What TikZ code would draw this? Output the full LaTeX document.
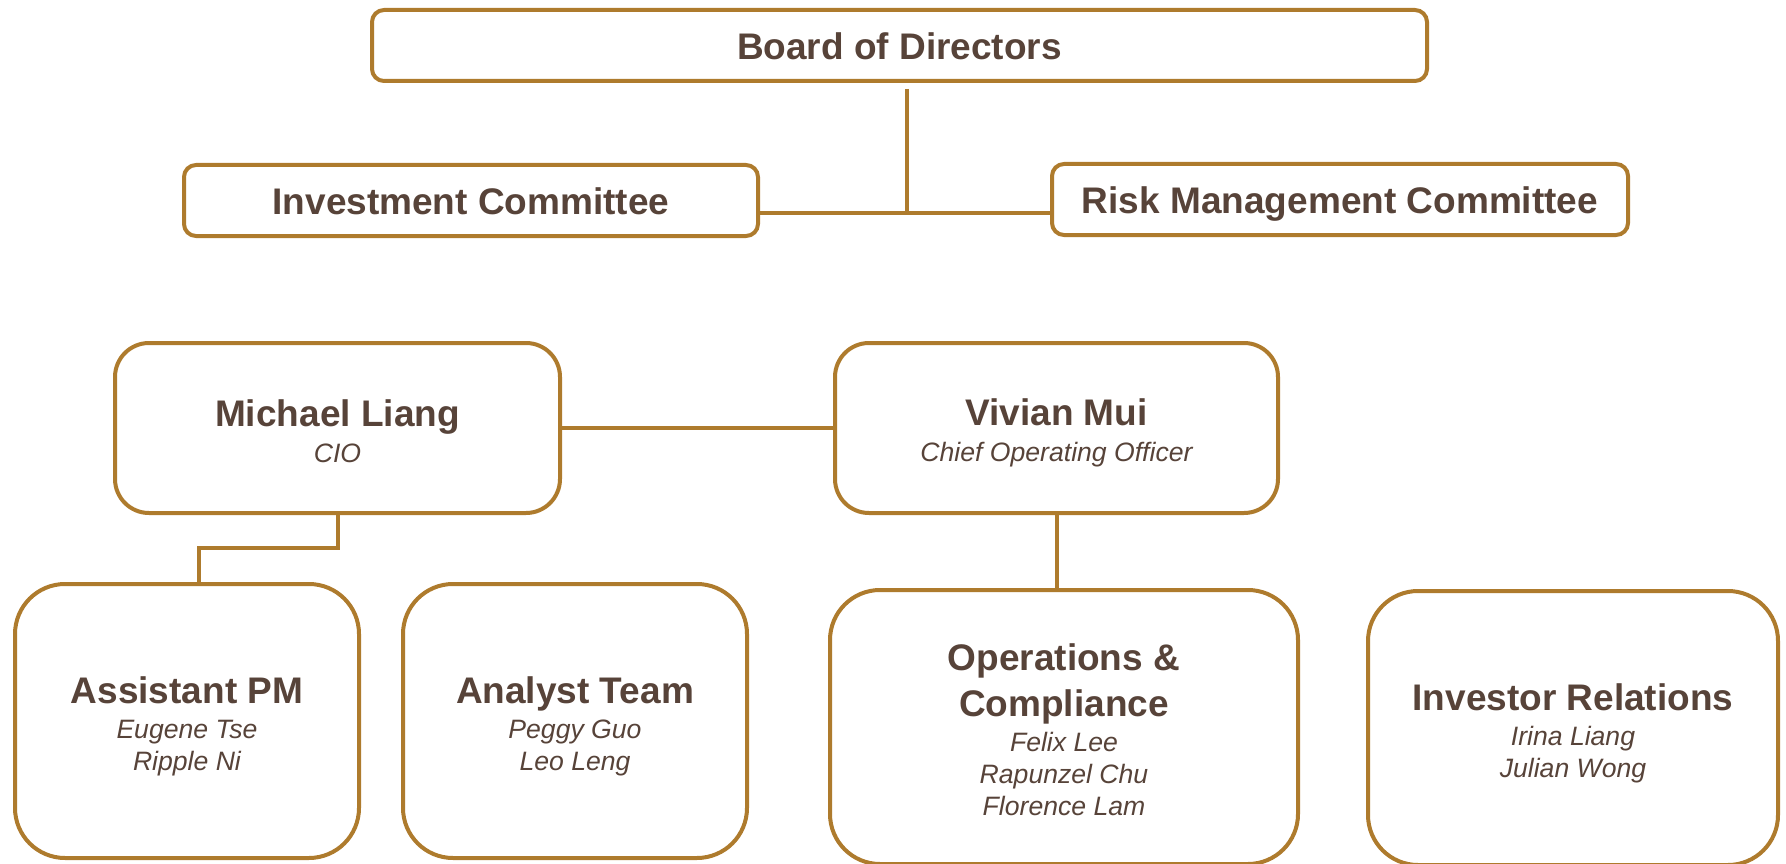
\documentclass[tikz,border=0pt]{standalone}
\usepackage{fontspec}
\setmainfont{Liberation Sans}
\usepackage{xcolor}
\definecolor{gold}{RGB}{174,123,45}
\definecolor{ink}{RGB}{87,67,57}
% heading line, optional strut height moves the text block down
\newcommand{\hd}[2][27pt]{{\bfseries\upshape\fontsize{37}{45}\selectfont\rule{0pt}{#1}#2}}

\begin{document}
\begin{tikzpicture}[x=1pt,y=-1pt,
 box/.style={draw=gold,line width=4pt,fill=white,text=ink,align=center,inner sep=0pt,
  font=\itshape\fontsize{26.6}{32}\selectfont},
 wide/.style={box,rounded corners=12pt,minimum height=71pt},
 unit/.style={box,rounded corners=34pt,minimum height=170pt},
 team/.style={box,rounded corners=50pt,minimum height=274pt},
 link/.style={draw=gold,line width=4pt}]
 \useasboundingbox (0,0) rectangle (1786,864);

 % board and committees
 \node[wide,minimum width=1055pt] (board) at (899.5,45.5) {\hd[29pt]{Board of Directors}};
 \node[wide,minimum width=574pt] (ic) at (471,200.5) {\hd[29pt]{Investment Committee}};
 \node[wide,minimum width=576pt] (rm) at (1340,199.5) {\hd[36pt]{Risk Management Committee}};
 \coordinate (bt) at (907,89);
 \coordinate (jn) at (907,213);
 \draw[link] (bt) -- (jn);
 \draw[link] (ic.east |- jn) -- (rm.west |- jn);

 % heads
 \node[unit,minimum width=445pt] (ml) at (337.5,428) {\hd[32.6pt]{Michael Liang}\\[4pt]CIO};
 \node[unit,minimum width=443pt] (vm) at (1056.5,428) {\hd[36pt]{Vivian Mui}\\[4pt]Chief Operating Officer};
 \draw[link] (ml.east) -- (vm.west);

 % teams
 \node[team,minimum width=344pt] (apm) at (187,721) {\hd[38.4pt]{Assistant PM}\\[3pt]Eugene Tse\\Ripple Ni};
 \node[team,minimum width=344pt] (at) at (575,721) {\hd[37pt]{Analyst Team}\\[3pt]Peggy Guo\\Leo Leng};
 \node[team,minimum width=468pt] (oc) at (1064,727) {\hd[31.6pt]{Operations \&}\\[10pt]\hd{Compliance}\\[3pt]Felix Lee\\Rapunzel Chu\\Florence Lam};
 \node[team,minimum width=410pt] (ir) at (1573,728) {\hd[37pt]{Investor Relations}\\[3pt]Irina Liang\\Julian Wong};

 \coordinate (el) at (199,548);
 \draw[link] (ml.south) |- (el) -- (el |- apm.north);
 \draw[link] (vm.south) -- (vm.south |- oc.north);
\end{tikzpicture}
\end{document}
